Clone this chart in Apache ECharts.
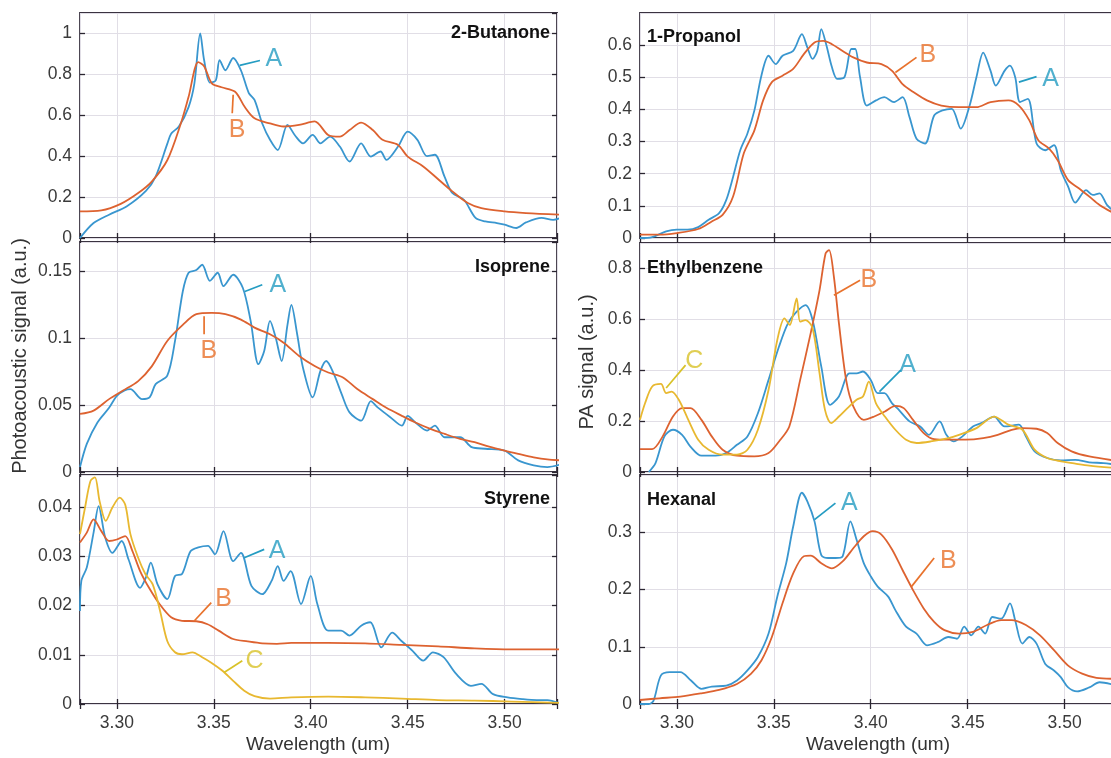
<!DOCTYPE html>
<html><head><meta charset="utf-8">
<script src="https://cdn.jsdelivr.net/npm/echarts@6.0.0/dist/echarts.min.js"></script>
<style>html,body{margin:0;padding:0;background:#fff}#c{width:1111px;height:758px}</style>
</head><body><div id="c"></div>
<script>
// ---------- data (wavelength um, signal a.u.) ----------
const xTickLabels = ['3.30','3.35','3.40','3.45','3.50'];
const panelNames = ['2-Butanone','Isoprene','Styrene','1-Propanol','Ethylbenzene','Hexanal'];

const butanoneA = [[3.281,0],[3.288,0.073],[3.296,0.114],[3.305,0.154],[3.315,0.23],[3.320,0.30],[3.326,0.46],[3.328,0.51],[3.332,0.545],[3.337,0.64],[3.340,0.756],[3.343,1.0],[3.345,0.87],[3.348,0.76],[3.351,0.77],[3.353,0.87],[3.356,0.82],[3.360,0.88],[3.364,0.82],[3.368,0.71],[3.371,0.675],[3.375,0.56],[3.379,0.48],[3.383,0.43],[3.388,0.553],[3.392,0.50],[3.396,0.463],[3.401,0.504],[3.405,0.463],[3.410,0.496],[3.415,0.447],[3.420,0.374],[3.426,0.463],[3.431,0.398],[3.436,0.423],[3.439,0.382],[3.445,0.447],[3.450,0.52],[3.455,0.48],[3.460,0.40],[3.464,0.407],[3.469,0.30],[3.473,0.22],[3.479,0.187],[3.485,0.098],[3.490,0.081],[3.496,0.073],[3.500,0.065],[3.506,0.049],[3.511,0.076],[3.519,0.098],[3.525,0.089],[3.529,0.098]];
const butanoneB = [[3.281,0.13],[3.292,0.135],[3.302,0.167],[3.311,0.22],[3.318,0.276],[3.326,0.38],[3.333,0.56],[3.337,0.69],[3.342,0.86],[3.345,0.84],[3.349,0.756],[3.354,0.737],[3.361,0.715],[3.366,0.64],[3.371,0.585],[3.379,0.56],[3.386,0.545],[3.394,0.553],[3.402,0.57],[3.409,0.504],[3.415,0.496],[3.420,0.528],[3.426,0.564],[3.432,0.528],[3.437,0.48],[3.445,0.455],[3.450,0.398],[3.458,0.35],[3.466,0.285],[3.473,0.228],[3.481,0.171],[3.488,0.146],[3.500,0.13],[3.511,0.122],[3.529,0.114]];

const isopreneA = [[3.281,0.0037],[3.2845,0.021],[3.290,0.037],[3.296,0.048],[3.300,0.057],[3.304,0.061],[3.307,0.062],[3.313,0.0545],[3.317,0.056],[3.320,0.0657],[3.326,0.072],[3.330,0.098],[3.334,0.135],[3.337,0.149],[3.341,0.151],[3.344,0.155],[3.348,0.143],[3.352,0.149],[3.355,0.139],[3.360,0.1475],[3.365,0.1376],[3.369,0.113],[3.373,0.0806],[3.376,0.0905],[3.379,0.113],[3.382,0.100],[3.385,0.083],[3.388,0.110],[3.390,0.125],[3.393,0.103],[3.396,0.078],[3.401,0.0558],[3.405,0.0756],[3.408,0.083],[3.412,0.073],[3.416,0.058],[3.420,0.0446],[3.426,0.0384],[3.431,0.053],[3.4345,0.0483],[3.441,0.041],[3.447,0.0347],[3.450,0.042],[3.454,0.037],[3.460,0.031],[3.464,0.0347],[3.469,0.026],[3.477,0.026],[3.483,0.0186],[3.490,0.0174],[3.500,0.016],[3.507,0.0087],[3.515,0.005],[3.522,0.0037],[3.529,0.0057]];
const isopreneB = [[3.281,0.0434],[3.288,0.0459],[3.296,0.0545],[3.303,0.0607],[3.311,0.068],[3.318,0.079],[3.326,0.098],[3.334,0.110],[3.341,0.118],[3.349,0.119],[3.356,0.118],[3.364,0.114],[3.371,0.108],[3.379,0.103],[3.386,0.0967],[3.394,0.0868],[3.402,0.0793],[3.409,0.0744],[3.4166,0.0707],[3.424,0.062],[3.432,0.0545],[3.439,0.048],[3.447,0.042],[3.454,0.037],[3.462,0.032],[3.469,0.0285],[3.477,0.0248],[3.4845,0.0223],[3.492,0.019],[3.500,0.016],[3.507,0.0136],[3.515,0.011],[3.522,0.0094],[3.529,0.0087]];

const styreneA = [[3.281,0.0189],[3.2817,0.025],[3.2845,0.0277],[3.288,0.0348],[3.2906,0.0402],[3.294,0.0338],[3.2977,0.0307],[3.3025,0.0331],[3.306,0.0294],[3.312,0.0236],[3.315,0.0257],[3.3175,0.0287],[3.321,0.0243],[3.326,0.0213],[3.330,0.026],[3.3336,0.0264],[3.338,0.031],[3.342,0.0318],[3.347,0.0321],[3.3506,0.0304],[3.355,0.0351],[3.360,0.029],[3.364,0.0307],[3.3694,0.024],[3.375,0.0223],[3.3798,0.025],[3.383,0.028],[3.386,0.025],[3.3896,0.027],[3.395,0.0203],[3.400,0.026],[3.4034,0.0203],[3.409,0.0149],[3.4157,0.0149],[3.420,0.0139],[3.426,0.0159],[3.4307,0.0166],[3.4364,0.0115],[3.442,0.0145],[3.4468,0.0128],[3.4525,0.0108],[3.458,0.0088],[3.463,0.0105],[3.4685,0.0095],[3.475,0.0061],[3.4826,0.0037],[3.488,0.0041],[3.494,0.002],[3.5015,0.00135],[3.509,0.001],[3.5166,0.0008],[3.522,0.0008],[3.528,0.0002]];
const styreneB = [[3.281,0.0328],[3.2845,0.0348],[3.288,0.0375],[3.292,0.0351],[3.296,0.0331],[3.300,0.0334],[3.3043,0.0341],[3.308,0.0311],[3.312,0.027],[3.3166,0.0236],[3.322,0.0203],[3.328,0.0176],[3.3336,0.0169],[3.341,0.0168],[3.3468,0.0162],[3.3525,0.0149],[3.360,0.0132],[3.3675,0.0127],[3.375,0.0123],[3.3826,0.0122],[3.390,0.0124],[3.409,0.0124],[3.428,0.0123],[3.4468,0.012],[3.4657,0.0117],[3.4845,0.0113],[3.5034,0.0111],[3.529,0.0111]];
const styreneC = [[3.281,0.0345],[3.2836,0.0399],[3.2864,0.0453],[3.2887,0.046],[3.2911,0.0412],[3.2943,0.0372],[3.2977,0.0399],[3.3015,0.0419],[3.3043,0.0405],[3.307,0.0345],[3.311,0.0297],[3.3147,0.0264],[3.3185,0.0243],[3.3223,0.0189],[3.326,0.0128],[3.330,0.0105],[3.3336,0.0101],[3.339,0.0105],[3.344,0.0095],[3.3487,0.0084],[3.3543,0.0068],[3.360,0.0047],[3.3657,0.0027],[3.371,0.0016],[3.379,0.0011],[3.390,0.00135],[3.409,0.0015],[3.428,0.00135],[3.4468,0.0011],[3.4657,0.0008],[3.4845,0.0007],[3.5034,0.0005],[3.529,0.0002]];

const propanolA = [[3.281,0],[3.2873,0.003],[3.2945,0.0206],[3.300,0.0258],[3.3055,0.0258],[3.311,0.034],[3.3164,0.0567],[3.3218,0.0773],[3.3255,0.1186],[3.329,0.19],[3.3327,0.273],[3.3364,0.325],[3.340,0.397],[3.3436,0.505],[3.3473,0.567],[3.351,0.541],[3.3545,0.567],[3.360,0.582],[3.3645,0.634],[3.3673,0.593],[3.370,0.557],[3.3724,0.582],[3.3745,0.65],[3.377,0.603],[3.380,0.531],[3.3827,0.495],[3.3864,0.5],[3.390,0.588],[3.392,0.588],[3.3945,0.5],[3.398,0.412],[3.4027,0.428],[3.407,0.438],[3.412,0.423],[3.4164,0.438],[3.420,0.376],[3.4236,0.309],[3.428,0.294],[3.4327,0.381],[3.437,0.397],[3.4418,0.402],[3.4464,0.340],[3.451,0.412],[3.4545,0.5],[3.458,0.577],[3.4618,0.52],[3.4645,0.474],[3.469,0.52],[3.4718,0.536],[3.4745,0.5],[3.477,0.423],[3.481,0.433],[3.4855,0.294],[3.490,0.273],[3.4945,0.289],[3.498,0.211],[3.5018,0.16],[3.5055,0.11],[3.511,0.149],[3.5145,0.134],[3.518,0.139],[3.5218,0.103],[3.527,0.075]];
const propanolB = [[3.281,0.0103],[3.291,0.0103],[3.300,0.0155],[3.311,0.028],[3.318,0.0515],[3.3236,0.072],[3.329,0.129],[3.3345,0.263],[3.340,0.335],[3.3445,0.428],[3.349,0.485],[3.3545,0.505],[3.360,0.526],[3.3655,0.572],[3.371,0.608],[3.3755,0.613],[3.380,0.603],[3.3855,0.582],[3.391,0.562],[3.398,0.546],[3.4055,0.541],[3.411,0.52],[3.4164,0.479],[3.422,0.454],[3.429,0.428],[3.4364,0.412],[3.4455,0.407],[3.4545,0.407],[3.4618,0.423],[3.471,0.428],[3.4764,0.412],[3.4818,0.366],[3.4864,0.304],[3.492,0.278],[3.4964,0.242],[3.5018,0.18],[3.5073,0.155],[3.5127,0.129],[3.518,0.103],[3.527,0.072]];

const ethylA = [[3.2855,0],[3.289,0.035],[3.2936,0.14],[3.298,0.166],[3.3027,0.146],[3.307,0.1],[3.3127,0.064],[3.32,0.064],[3.3255,0.0745],[3.331,0.107],[3.3364,0.14],[3.3418,0.231],[3.3473,0.362],[3.3527,0.493],[3.3573,0.584],[3.3618,0.63],[3.3664,0.656],[3.370,0.597],[3.3745,0.414],[3.379,0.264],[3.3836,0.297],[3.389,0.388],[3.3927,0.388],[3.396,0.395],[3.40,0.362],[3.4036,0.31],[3.407,0.31],[3.411,0.27],[3.4145,0.244],[3.42,0.199],[3.4255,0.179],[3.43,0.146],[3.4355,0.199],[3.439,0.146],[3.4427,0.12],[3.4473,0.14],[3.4527,0.179],[3.457,0.192],[3.4636,0.218],[3.469,0.179],[3.4764,0.186],[3.48,0.14],[3.4845,0.081],[3.491,0.055],[3.498,0.046],[3.5055,0.048],[3.5127,0.038],[3.52,0.035],[3.527,0.028]];
const ethylB = [[3.281,0.09],[3.2873,0.09],[3.2927,0.14],[3.298,0.218],[3.3027,0.251],[3.307,0.251],[3.3127,0.205],[3.318,0.14],[3.3236,0.0876],[3.331,0.064],[3.34,0.0614],[3.3473,0.0745],[3.3527,0.12],[3.358,0.179],[3.3636,0.362],[3.369,0.545],[3.3736,0.715],[3.3767,0.859],[3.3785,0.872],[3.381,0.767],[3.3836,0.584],[3.3873,0.362],[3.391,0.258],[3.3964,0.205],[3.4018,0.218],[3.4073,0.238],[3.4127,0.26],[3.417,0.251],[3.4218,0.205],[3.4273,0.153],[3.4327,0.129],[3.44,0.127],[3.449,0.127],[3.458,0.133],[3.4655,0.146],[3.4727,0.166],[3.478,0.1725],[3.4855,0.17],[3.491,0.153],[3.4964,0.114],[3.5036,0.081],[3.5127,0.061],[3.527,0.044]];
const ethylC = [[3.281,0.205],[3.2836,0.27],[3.2873,0.336],[3.2918,0.346],[3.2945,0.31],[3.2973,0.316],[3.301,0.284],[3.3055,0.212],[3.311,0.127],[3.3164,0.0876],[3.3236,0.068],[3.331,0.068],[3.3364,0.0876],[3.3418,0.166],[3.3473,0.323],[3.3518,0.519],[3.3555,0.604],[3.3582,0.578],[3.3618,0.682],[3.3636,0.591],[3.3664,0.597],[3.37,0.565],[3.3736,0.388],[3.3764,0.244],[3.3796,0.192],[3.3836,0.218],[3.388,0.251],[3.3927,0.284],[3.396,0.297],[3.399,0.355],[3.4027,0.27],[3.4073,0.218],[3.4127,0.166],[3.4182,0.127],[3.4236,0.114],[3.4309,0.12],[3.44,0.133],[3.4455,0.146],[3.4545,0.1725],[3.4636,0.218],[3.4709,0.186],[3.4782,0.166],[3.4845,0.0876],[3.491,0.055],[3.4982,0.042],[3.5055,0.033],[3.5127,0.025],[3.527,0.015]];

const hexanalA = [[3.281,0],[3.2855,0],[3.288,0.006],[3.2918,0.05],[3.2964,0.0557],[3.3018,0.0557],[3.3073,0.041],[3.3127,0.0264],[3.318,0.0305],[3.3255,0.032],[3.331,0.041],[3.3364,0.0586],[3.3418,0.082],[3.3473,0.123],[3.3518,0.1875],[3.3564,0.246],[3.36,0.31],[3.3645,0.369],[3.3673,0.354],[3.371,0.319],[3.3745,0.26],[3.378,0.255],[3.3818,0.255],[3.3855,0.258],[3.3895,0.319],[3.3927,0.287],[3.3964,0.246],[3.40,0.223],[3.4036,0.205],[3.409,0.1875],[3.4127,0.164],[3.4182,0.135],[3.4236,0.123],[3.429,0.1025],[3.4345,0.108],[3.44,0.117],[3.4445,0.114],[3.4482,0.135],[3.4518,0.12],[3.4555,0.135],[3.459,0.123],[3.4627,0.152],[3.4673,0.149],[3.4718,0.1757],[3.4745,0.146],[3.4782,0.1055],[3.4818,0.117],[3.4855,0.1055],[3.49,0.07],[3.4945,0.0586],[3.498,0.047],[3.5018,0.029],[3.5064,0.022],[3.5127,0.029],[3.518,0.038],[3.527,0.032]];
const hexanalB = [[3.281,0.007],[3.291,0.01],[3.3018,0.0129],[3.3127,0.0187],[3.3218,0.0246],[3.331,0.035],[3.3382,0.0527],[3.3436,0.076],[3.349,0.117],[3.3545,0.176],[3.36,0.228],[3.3655,0.258],[3.369,0.259],[3.3745,0.246],[3.38,0.237],[3.3855,0.249],[3.391,0.272],[3.3964,0.293],[3.401,0.302],[3.4055,0.296],[3.411,0.27],[3.4164,0.234],[3.4218,0.199],[3.4273,0.167],[3.4327,0.1435],[3.438,0.129],[3.4455,0.123],[3.4527,0.126],[3.46,0.138],[3.4673,0.1465],[3.4727,0.1465],[3.48,0.138],[3.4873,0.12],[3.4945,0.094],[3.5018,0.067],[3.509,0.053],[3.5164,0.0457],[3.527,0.044]];

// y-axis ranges per panel: [max, interval]
const yRanges = [[1.1,0.2],[0.172,0.05],[0.0465,0.01],[0.7,0.1],[0.9,0.2],[0.4,0.1]];

// curve letters per panel
const panelCurves = [
  [['A',butanoneA],['B',butanoneB]],
  [['A',isopreneA],['B',isopreneB]],
  [['A',styreneA],['B',styreneB],['C',styreneC]],
  [['A',propanolA],['B',propanolB]],
  [['A',ethylA],['B',ethylB],['C',ethylC]],
  [['A',hexanalA],['B',hexanalB]]
];

// annotation letters [letter, x, y] and leader lines [letter, x1, y1, x2, y2] (data units)
const panelNotes = [
  [['A',3.381,0.873],['B',3.362,0.527]],
  [['A',3.383,0.140],['B',3.3475,0.0905]],
  [['A',3.3826,0.0311],['B',3.355,0.0213],['C',3.371,0.0088]],
  [['B',3.4295,0.569],['A',3.4927,0.495]],
  [['B',3.399,0.754],['C',3.309,0.434],['A',3.419,0.42]],
  [['A',3.389,0.351],['B',3.440,0.249]]
];
const panelLeaders = [
  [['A',3.3634,0.844,3.3738,0.868],['B',3.360,0.70,3.3595,0.61]],
  [['A',3.366,0.135,3.375,0.140],['B',3.345,0.1165,3.345,0.103]],
  [['A',3.3657,0.0297,3.376,0.0314],['B',3.340,0.0169,3.3487,0.0206],['C',3.3553,0.0064,3.3647,0.0088]],
  [['B',3.4127,0.515,3.4236,0.562],['A',3.4764,0.485,3.4855,0.502]],
  [['B',3.381,0.695,3.3945,0.754],['C',3.2945,0.33,3.3045,0.42],['A',3.4045,0.316,3.4155,0.40]],
  [['A',3.371,0.322,3.3818,0.351],['B',3.421,0.205,3.4327,0.255]]
];

// ---------- styling / layout ----------
const lineColor = {A:'#3996cf', B:'#dd6230', C:'#e8b830'};
const noteColor = {A:'#249cc2', B:'#e8722c', C:'#d8c228'};
const boxes = [
  {left:80, top:13, width:477, height:225},
  {left:80, top:242, width:477, height:230},
  {left:80, top:475, width:477, height:229},
  {left:640, top:13, width:477, height:225},
  {left:640, top:243, width:477, height:229},
  {left:640, top:475, width:477, height:229}
];
const X_MIN = 3.281, X_MAX = 3.527;
const FONT = 'Liberation Sans, Arial, Helvetica, sans-serif';

const grid = [], xAxis = [], yAxis = [], series = [];
const xFmt = v => { const k = v*20; return Math.abs(k-Math.round(k))<1e-6 ? v.toFixed(2) : ''; };
const tickStyle = {inside:true, length:5, lineStyle:{color:'#2a2530', width:1.3}};

boxes.forEach((b,i) => {
  grid.push(Object.assign({show:true, borderColor:'#3a3340', borderWidth:1.8, backgroundColor:'transparent', containLabel:false, outerBoundsMode:'none'}, b));
  const bottomRow = (i%3)===2;
  xAxis.push({gridIndex:i, type:'value', min:X_MIN, max:X_MAX, splitNumber:5, position:'bottom',
    axisLine:{show:false}, axisTick:tickStyle,
    axisLabel:{show:bottomRow, formatter:xFmt, fontSize:17.5, color:'#3a3a3a', margin:10, fontFamily:FONT},
    splitLine:{show:true, lineStyle:{color:'#e1dee6', width:1}}});
  xAxis.push({gridIndex:i, type:'value', min:X_MIN, max:X_MAX, splitNumber:5, position:'top',
    axisLine:{show:false}, axisTick:tickStyle, axisLabel:{show:false}, splitLine:{show:false}});
  const [ymax, yint] = yRanges[i];
  yAxis.push({gridIndex:i, type:'value', min:0, max:ymax, interval:yint, position:'left',
    axisLine:{show:false}, axisTick:tickStyle,
    axisLabel:{fontSize:17.5, color:'#3a3a3a', margin:8, showMaxLabel:false, fontFamily:FONT},
    splitLine:{show:true, lineStyle:{color:'#e1dee6', width:1}}});
  yAxis.push({gridIndex:i, type:'value', min:0, max:ymax, interval:yint, position:'right',
    axisLine:{show:false}, axisTick:tickStyle, axisLabel:{show:false}, splitLine:{show:false}});

  panelCurves[i].forEach(([L, data]) => {
    series.push({type:'line', xAxisIndex:2*i, yAxisIndex:2*i, data, symbol:'none', smooth:0.3,
      lineStyle:{color:lineColor[L], width:1.8}, z:3, silent:true});
  });
  panelLeaders[i].forEach(([L,x1,y1,x2,y2]) => {
    series.push({type:'line', xAxisIndex:2*i, yAxisIndex:2*i, data:[[x1,y1],[x2,y2]], symbol:'none',
      lineStyle:{color:noteColor[L], width:1.7}, z:4, silent:true});
  });
  panelNotes[i].forEach(([L,x,y]) => {
    series.push({type:'scatter', xAxisIndex:2*i, yAxisIndex:2*i, data:[[x,y]], symbolSize:1,
      itemStyle:{color:'rgba(0,0,0,0)'}, z:5, silent:true,
      label:{show:true, position:'inside', formatter:L, fontSize:25, color:noteColor[L], fontFamily:FONT}});
  });
});

// panel titles and axis names (text)
const titlePos = [
  {x:550, y:33, align:'right'}, {x:550, y:267, align:'right'}, {x:550, y:499, align:'right'},
  {x:647, y:37, align:'left'}, {x:647, y:268, align:'left'}, {x:647, y:500, align:'left'}
];
const graphic = panelNames.map((t,i) => ({type:'text', x:titlePos[i].x, y:titlePos[i].y, z:10,
  style:{text:t, fill:'#111', font:'bold 18px '+FONT, align:titlePos[i].align, verticalAlign:'middle'}}));
graphic.push({type:'text', x:20, y:356, rotation:Math.PI/2, z:10,
  style:{text:'Photoacoustic signal (a.u.)', fill:'#333', font:'20px '+FONT, align:'center', verticalAlign:'middle'}});
graphic.push({type:'text', x:587, y:362, rotation:Math.PI/2, z:10,
  style:{text:'PA signal (a.u.)', fill:'#333', font:'20px '+FONT, align:'center', verticalAlign:'middle'}});
graphic.push({type:'text', x:318, y:745, z:10,
  style:{text:'Wavelength (um)', fill:'#333', font:'19px '+FONT, align:'center', verticalAlign:'middle'}});
graphic.push({type:'text', x:878, y:745, z:10,
  style:{text:'Wavelength (um)', fill:'#333', font:'19px '+FONT, align:'center', verticalAlign:'middle'}});

const chart = echarts.init(document.getElementById('c'), null, {renderer:'canvas'});
chart.setOption({animation:false, backgroundColor:'#fff', grid, xAxis, yAxis, series, graphic});
</script></body></html>
